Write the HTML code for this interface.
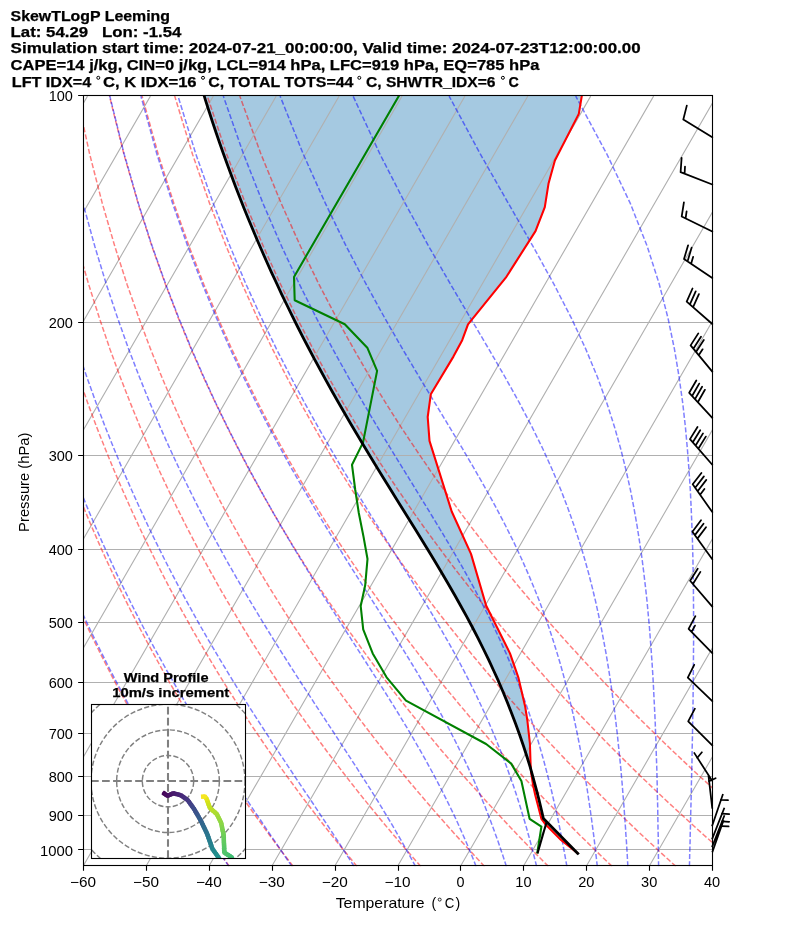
<!DOCTYPE html>
<html><head><meta charset="utf-8"><title>SkewTLogP Leeming</title>
<style>html,body{margin:0;padding:0;background:#fff;overflow:hidden}svg{display:block;will-change:transform}</style></head>
<body>
<svg width="794" height="937" viewBox="0 0 794 937" font-family="'Liberation Sans', sans-serif">
<rect width="794" height="937" fill="#fff"/>
<defs><clipPath id="ax"><rect x="83.1" y="96.1" width="629.0" height="770.1999999999999"/></clipPath><clipPath id="hd"><rect x="91.5" y="704.5" width="154" height="154"/></clipPath></defs>
<g clip-path="url(#ax)">
<path d="M530.9,769.8 L530.2,767.2 L526.9,756.5 L523.4,745.7 L519.7,735.0 L515.8,724.2 L511.7,713.5 L507.5,702.7 L503.1,692.0 L498.5,681.2 L493.6,670.5 L488.6,659.7 L483.4,649.0 L478.0,638.2 L472.5,627.5 L466.7,616.7 L460.8,606.0 L454.8,595.2 L448.6,584.5 L442.3,573.7 L435.9,563.0 L429.4,552.2 L422.8,541.5 L416.2,530.7 L409.5,520.0 L402.8,509.2 L396.1,498.5 L389.5,487.7 L382.8,477.0 L376.2,466.2 L369.7,455.5 L363.2,444.7 L356.8,434.0 L350.4,423.2 L344.2,412.5 L338.0,401.8 L331.9,391.0 L326.0,380.3 L320.1,369.5 L314.3,358.8 L308.6,348.0 L303.0,337.3 L297.5,326.5 L292.2,315.8 L286.9,305.0 L281.7,294.3 L276.7,283.5 L271.7,272.8 L266.8,262.0 L262.1,251.3 L257.4,240.5 L252.9,229.8 L248.4,219.0 L244.0,208.3 L239.8,197.5 L235.6,186.8 L231.6,176.0 L227.6,165.3 L223.7,154.5 L219.9,143.8 L216.2,133.0 L212.6,122.3 L209.1,111.5 L205.7,100.8 L202.4,90.0 L199.2,79.3 L582.7,90.5 L578.8,113.9 L554.9,160.5 L548.6,183.2 L544.8,207.1 L535.5,231.1 L505.8,277.7 L468.0,324.3 L462.2,340.2 L453.4,356.6 L430.8,394.3 L427.7,417.0 L429.5,440.9 L451.7,511.5 L471.0,553.9 L486.1,605.5 L510.0,653.4 L518.3,677.3 L525.1,706.2 L527.3,720.0 L529.4,739.0 L529.9,743.5 L530.6,764.6 L530.9,769.8Z" fill="#1f77b4" fill-opacity="0.4"/>
<path d="M83.1,95.5H712.1 M83.1,322.5H712.1 M83.1,455.5H712.1 M83.1,549.5H712.1 M83.1,622.5H712.1 M83.1,682.5H712.1 M83.1,733.5H712.1 M83.1,776.5H712.1 M83.1,815.5H712.1 M83.1,849.5H712.1 M-420.1,866.3L24.6,96.1 M-357.2,866.3L87.5,96.1 M-294.3,866.3L150.4,96.1 M-231.4,866.3L213.3,96.1 M-168.5,866.3L276.2,96.1 M-105.6,866.3L339.1,96.1 M-42.7,866.3L402.0,96.1 M20.2,866.3L464.9,96.1 M83.1,866.3L527.8,96.1 M146.0,866.3L590.7,96.1 M208.9,866.3L653.6,96.1 M271.8,866.3L716.5,96.1 M334.7,866.3L779.4,96.1 M397.6,866.3L842.3,96.1 M460.5,866.3L905.2,96.1 M523.4,866.3L968.1,96.1 M586.3,866.3L1031.0,96.1 M649.2,866.3L1093.9,96.1 M712.1,866.3L1156.8,96.1" stroke="#b0b0b0" stroke-width="1.11" fill="none"/>
<path d="M229.4,866.4 L225.1,860.3 L220.7,854.1 L216.2,847.7 L211.7,841.2 L207.2,834.7 L202.6,827.9 L198.0,821.0 L193.3,814.0 L188.6,806.8 L183.8,799.5 L179.0,792.0 L174.1,784.3 L169.2,776.5 L164.2,768.4 L159.2,760.1 L154.1,751.7 L148.9,743.0 L143.7,734.0 L138.5,724.8 L133.1,715.4 L127.7,705.7 L122.3,695.6 L116.7,685.3 L111.1,674.6 L105.4,663.5 L99.7,652.1 L93.8,640.3 L87.9,628.0 L81.9,615.2 L75.8,601.9 L69.6,588.1 L63.3,573.6 L57.0,558.5 L50.5,542.6 L44.0,526.0 L37.3,508.4 L30.5,489.8 L23.7,470.2 L16.7,449.2 L9.7,426.9 L2.5,402.9 L-4.7,377.0 L-11.9,348.9 L-19.3,318.1 L-26.6,284.2 L-33.8,246.3 L-40.8,203.4 L-47.4,154.2 L-53.4,96.1 M293.2,866.4 L288.5,860.3 L283.8,854.1 L279.0,847.7 L274.1,841.2 L269.2,834.7 L264.3,827.9 L259.3,821.0 L254.2,814.0 L249.1,806.8 L244.0,799.5 L238.8,792.0 L233.5,784.3 L228.2,776.5 L222.8,768.4 L217.3,760.1 L211.8,751.7 L206.2,743.0 L200.6,734.0 L194.8,724.8 L189.0,715.4 L183.2,705.7 L177.2,695.6 L171.2,685.3 L165.1,674.6 L158.9,663.5 L152.6,652.1 L146.2,640.3 L139.7,628.0 L133.1,615.2 L126.4,601.9 L119.7,588.1 L112.8,573.6 L105.7,558.5 L98.6,542.6 L91.4,526.0 L84.0,508.4 L76.5,489.8 L68.8,470.2 L61.1,449.2 L53.2,426.9 L45.1,402.9 L37.0,377.0 L28.7,348.9 L20.3,318.1 L11.8,284.2 L3.4,246.3 L-5.0,203.4 L-13.2,154.2 L-20.8,96.1 M357.0,866.4 L352.0,860.3 L346.9,854.1 L341.7,847.7 L336.5,841.2 L331.3,834.7 L325.9,827.9 L320.6,821.0 L315.2,814.0 L309.7,806.8 L304.1,799.5 L298.5,792.0 L292.9,784.3 L287.1,776.5 L281.3,768.4 L275.5,760.1 L269.5,751.7 L263.5,743.0 L257.4,734.0 L251.2,724.8 L245.0,715.4 L238.6,705.7 L232.2,695.6 L225.6,685.3 L219.0,674.6 L212.3,663.5 L205.5,652.1 L198.6,640.3 L191.5,628.0 L184.4,615.2 L177.1,601.9 L169.7,588.1 L162.2,573.6 L154.5,558.5 L146.7,542.6 L138.8,526.0 L130.7,508.4 L122.4,489.8 L114.0,470.2 L105.4,449.2 L96.6,426.9 L87.7,402.9 L78.6,377.0 L69.3,348.9 L59.8,318.1 L50.2,284.2 L40.5,246.3 L30.8,203.4 L21.1,154.2 L11.8,96.1 M420.8,866.4 L415.4,860.3 L410.0,854.1 L404.5,847.7 L398.9,841.2 L393.3,834.7 L387.6,827.9 L381.9,821.0 L376.1,814.0 L370.2,806.8 L364.3,799.5 L358.3,792.0 L352.2,784.3 L346.1,776.5 L339.9,768.4 L333.6,760.1 L327.2,751.7 L320.8,743.0 L314.2,734.0 L307.6,724.8 L300.9,715.4 L294.0,705.7 L287.1,695.6 L280.1,685.3 L273.0,674.6 L265.7,663.5 L258.4,652.1 L250.9,640.3 L243.3,628.0 L235.6,615.2 L227.7,601.9 L219.7,588.1 L211.6,573.6 L203.3,558.5 L194.8,542.6 L186.2,526.0 L177.3,508.4 L168.3,489.8 L159.1,470.2 L149.7,449.2 L140.1,426.9 L130.3,402.9 L120.2,377.0 L109.9,348.9 L99.4,318.1 L88.6,284.2 L77.7,246.3 L66.5,203.4 L55.4,154.2 L44.4,96.1 M484.6,866.4 L478.8,860.3 L473.1,854.1 L467.2,847.7 L461.3,841.2 L455.3,834.7 L449.3,827.9 L443.2,821.0 L437.0,814.0 L430.8,806.8 L424.5,799.5 L418.1,792.0 L411.6,784.3 L405.1,776.5 L398.4,768.4 L391.7,760.1 L384.9,751.7 L378.0,743.0 L371.0,734.0 L364.0,724.8 L356.8,715.4 L349.5,705.7 L342.1,695.6 L334.6,685.3 L326.9,674.6 L319.2,663.5 L311.3,652.1 L303.3,640.3 L295.1,628.0 L286.8,615.2 L278.4,601.9 L269.8,588.1 L261.0,573.6 L252.0,558.5 L242.9,542.6 L233.6,526.0 L224.0,508.4 L214.3,489.8 L204.3,470.2 L194.1,449.2 L183.6,426.9 L172.8,402.9 L161.8,377.0 L150.5,348.9 L138.9,318.1 L127.0,284.2 L114.8,246.3 L102.3,203.4 L89.7,154.2 L77.0,96.1 M548.4,866.4 L542.3,860.3 L536.2,854.1 L530.0,847.7 L523.7,841.2 L517.4,834.7 L511.0,827.9 L504.5,821.0 L498.0,814.0 L491.3,806.8 L484.6,799.5 L477.9,792.0 L471.0,784.3 L464.0,776.5 L457.0,768.4 L449.9,760.1 L442.6,751.7 L435.3,743.0 L427.9,734.0 L420.3,724.8 L412.7,715.4 L404.9,705.7 L397.0,695.6 L389.0,685.3 L380.9,674.6 L372.6,663.5 L364.2,652.1 L355.7,640.3 L346.9,628.0 L338.1,615.2 L329.0,601.9 L319.8,588.1 L310.4,573.6 L300.8,558.5 L291.0,542.6 L281.0,526.0 L270.7,508.4 L260.2,489.8 L249.4,470.2 L238.4,449.2 L227.1,426.9 L215.4,402.9 L203.4,377.0 L191.1,348.9 L178.4,318.1 L165.4,284.2 L151.9,246.3 L138.1,203.4 L123.9,154.2 L109.5,96.1 M612.1,866.4 L605.7,860.3 L599.3,854.1 L592.7,847.7 L586.1,841.2 L579.4,834.7 L572.7,827.9 L565.8,821.0 L558.9,814.0 L551.9,806.8 L544.8,799.5 L537.6,792.0 L530.4,784.3 L523.0,776.5 L515.6,768.4 L508.0,760.1 L500.3,751.7 L492.6,743.0 L484.7,734.0 L476.7,724.8 L468.6,715.4 L460.4,705.7 L452.0,695.6 L443.5,685.3 L434.9,674.6 L426.1,663.5 L417.1,652.1 L408.0,640.3 L398.8,628.0 L389.3,615.2 L379.7,601.9 L369.8,588.1 L359.8,573.6 L349.6,558.5 L339.1,542.6 L328.3,526.0 L317.4,508.4 L306.1,489.8 L294.6,470.2 L282.7,449.2 L270.5,426.9 L258.0,402.9 L245.1,377.0 L231.7,348.9 L218.0,318.1 L203.8,284.2 L189.1,246.3 L173.9,203.4 L158.2,154.2 L142.1,96.1 M675.9,866.4 L669.2,860.3 L662.4,854.1 L655.5,847.7 L648.5,841.2 L641.5,834.7 L634.3,827.9 L627.1,821.0 L619.8,814.0 L612.5,806.8 L605.0,799.5 L597.4,792.0 L589.8,784.3 L582.0,776.5 L574.1,768.4 L566.1,760.1 L558.1,751.7 L549.9,743.0 L541.5,734.0 L533.1,724.8 L524.5,715.4 L515.8,705.7 L507.0,695.6 L498.0,685.3 L488.8,674.6 L479.5,663.5 L470.0,652.1 L460.4,640.3 L450.6,628.0 L440.5,615.2 L430.3,601.9 L419.9,588.1 L409.2,573.6 L398.3,558.5 L387.2,542.6 L375.7,526.0 L364.0,508.4 L352.0,489.8 L339.7,470.2 L327.0,449.2 L314.0,426.9 L300.6,402.9 L286.7,377.0 L272.4,348.9 L257.5,318.1 L242.2,284.2 L226.2,246.3 L209.6,203.4 L192.5,154.2 L174.7,96.1 M739.7,866.4 L732.6,860.3 L725.5,854.1 L718.2,847.7 L710.9,841.2 L703.5,834.7 L696.0,827.9 L688.4,821.0 L680.8,814.0 L673.0,806.8 L665.1,799.5 L657.2,792.0 L649.1,784.3 L641.0,776.5 L632.7,768.4 L624.3,760.1 L615.8,751.7 L607.1,743.0 L598.4,734.0 L589.5,724.8 L580.4,715.4 L571.2,705.7 L561.9,695.6 L552.4,685.3 L542.8,674.6 L533.0,663.5 L522.9,652.1 L512.8,640.3 L502.4,628.0 L491.8,615.2 L481.0,601.9 L469.9,588.1 L458.6,573.6 L447.1,558.5 L435.3,542.6 L423.1,526.0 L410.7,508.4 L398.0,489.8 L384.9,470.2 L371.4,449.2 L357.5,426.9 L343.1,402.9 L328.3,377.0 L313.0,348.9 L297.1,318.1 L280.5,284.2 L263.3,246.3 L245.4,203.4 L226.7,154.2 L207.3,96.1 M803.5,866.4 L796.1,860.3 L788.6,854.1 L781.0,847.7 L773.3,841.2 L765.5,834.7 L757.7,827.9 L749.7,821.0 L741.7,814.0 L733.6,806.8 L725.3,799.5 L717.0,792.0 L708.5,784.3 L699.9,776.5 L691.2,768.4 L682.4,760.1 L673.5,751.7 L664.4,743.0 L655.2,734.0 L645.8,724.8 L636.3,715.4 L626.7,705.7 L616.9,695.6 L606.9,685.3 L596.7,674.6 L586.4,663.5 L575.9,652.1 L565.1,640.3 L554.2,628.0 L543.0,615.2 L531.6,601.9 L519.9,588.1 L508.0,573.6 L495.8,558.5 L483.3,542.6 L470.5,526.0 L457.4,508.4 L443.9,489.8 L430.0,470.2 L415.7,449.2 L400.9,426.9 L385.7,402.9 L369.9,377.0 L353.6,348.9 L336.6,318.1 L318.9,284.2 L300.5,246.3 L281.2,203.4 L261.0,154.2 L239.8,96.1" stroke="#ff0000" stroke-opacity="0.5" stroke-width="1.5" stroke-dasharray="5.14 2.22" fill="none"/>
<path d="M228.9,866.4 L224.7,860.3 L220.5,854.1 L216.3,847.7 L212.0,841.2 L207.6,834.7 L203.2,827.9 L198.7,821.0 L194.1,814.0 L189.5,806.8 L184.8,799.5 L180.1,792.0 L175.3,784.3 L170.4,776.5 L165.5,768.4 L160.5,760.1 L155.5,751.7 L150.4,743.0 L145.2,734.0 L139.9,724.8 L134.6,715.4 L129.2,705.7 L123.8,695.6 L118.2,685.3 L112.6,674.6 L106.9,663.5 L101.2,652.1 L95.3,640.3 L89.4,628.0 L83.4,615.2 L77.3,601.9 L71.1,588.1 L64.8,573.6 L58.4,558.5 L51.9,542.6 L45.3,526.0 L38.6,508.4 L31.9,489.8 L25.0,470.2 L18.0,449.2 L10.9,426.9 L3.8,402.9 L-3.5,377.0 L-10.8,348.9 L-18.1,318.1 L-25.4,284.2 L-32.7,246.3 L-39.8,203.4 L-46.4,154.2 L-52.4,96.1 M291.9,866.4 L287.7,860.3 L283.5,854.1 L279.2,847.7 L274.8,841.2 L270.3,834.7 L265.7,827.9 L261.1,821.0 L256.3,814.0 L251.5,806.8 L246.6,799.5 L241.6,792.0 L236.6,784.3 L231.4,776.5 L226.2,768.4 L220.9,760.1 L215.5,751.7 L210.0,743.0 L204.4,734.0 L198.8,724.8 L193.0,715.4 L187.2,705.7 L181.3,695.6 L175.3,685.3 L169.1,674.6 L162.9,663.5 L156.6,652.1 L150.2,640.3 L143.7,628.0 L137.1,615.2 L130.4,601.9 L123.6,588.1 L116.6,573.6 L109.6,558.5 L102.4,542.6 L95.1,526.0 L87.7,508.4 L80.1,489.8 L72.4,470.2 L64.6,449.2 L56.6,426.9 L48.5,402.9 L40.2,377.0 L31.9,348.9 L23.4,318.1 L14.9,284.2 L6.3,246.3 L-2.2,203.4 L-10.5,154.2 L-18.2,96.1 M354.1,866.4 L350.2,860.3 L346.2,854.1 L342.1,847.7 L337.9,841.2 L333.6,834.7 L329.2,827.9 L324.6,821.0 L319.9,814.0 L315.2,806.8 L310.3,799.5 L305.2,792.0 L300.1,784.3 L294.8,776.5 L289.5,768.4 L284.0,760.1 L278.3,751.7 L272.6,743.0 L266.8,734.0 L260.8,724.8 L254.7,715.4 L248.5,705.7 L242.1,695.6 L235.7,685.3 L229.1,674.6 L222.4,663.5 L215.6,652.1 L208.6,640.3 L201.5,628.0 L194.3,615.2 L187.0,601.9 L179.5,588.1 L171.9,573.6 L164.1,558.5 L156.2,542.6 L148.1,526.0 L139.9,508.4 L131.5,489.8 L122.9,470.2 L114.2,449.2 L105.2,426.9 L96.1,402.9 L86.8,377.0 L77.3,348.9 L67.7,318.1 L57.8,284.2 L47.9,246.3 L37.9,203.4 L27.9,154.2 L18.2,96.1 M415.5,866.4 L412.2,860.3 L408.8,854.1 L405.3,847.7 L401.6,841.2 L397.8,834.7 L393.9,827.9 L389.8,821.0 L385.6,814.0 L381.3,806.8 L376.8,799.5 L372.1,792.0 L367.2,784.3 L362.2,776.5 L357.1,768.4 L351.7,760.1 L346.2,751.7 L340.5,743.0 L334.7,734.0 L328.6,724.8 L322.4,715.4 L316.0,705.7 L309.5,695.6 L302.7,685.3 L295.8,674.6 L288.7,663.5 L281.4,652.1 L274.0,640.3 L266.4,628.0 L258.6,615.2 L250.6,601.9 L242.4,588.1 L234.1,573.6 L225.5,558.5 L216.8,542.6 L207.9,526.0 L198.8,508.4 L189.5,489.8 L179.9,470.2 L170.1,449.2 L160.1,426.9 L149.9,402.9 L139.4,377.0 L128.6,348.9 L117.6,318.1 L106.3,284.2 L94.8,246.3 L83.0,203.4 L71.2,154.2 L59.4,96.1 M476.1,866.4 L473.7,860.3 L471.2,854.1 L468.6,847.7 L465.8,841.2 L462.9,834.7 L459.9,827.9 L456.8,821.0 L453.5,814.0 L450.0,806.8 L446.4,799.5 L442.7,792.0 L438.7,784.3 L434.6,776.5 L430.2,768.4 L425.7,760.1 L420.9,751.7 L415.9,743.0 L410.7,734.0 L405.2,724.8 L399.5,715.4 L393.5,705.7 L387.2,695.6 L380.7,685.3 L373.9,674.6 L366.8,663.5 L359.5,652.1 L351.9,640.3 L344.0,628.0 L335.8,615.2 L327.3,601.9 L318.6,588.1 L309.6,573.6 L300.3,558.5 L290.7,542.6 L280.9,526.0 L270.8,508.4 L260.4,489.8 L249.7,470.2 L238.7,449.2 L227.4,426.9 L215.7,402.9 L203.8,377.0 L191.5,348.9 L178.8,318.1 L165.7,284.2 L152.2,246.3 L138.4,203.4 L124.2,154.2 L109.8,96.1 M506.4,866.4 L504.4,860.3 L502.4,854.1 L500.2,847.7 L498.0,841.2 L495.6,834.7 L493.2,827.9 L490.6,821.0 L487.9,814.0 L485.1,806.8 L482.1,799.5 L479.0,792.0 L475.6,784.3 L472.2,776.5 L468.5,768.4 L464.6,760.1 L460.5,751.7 L456.2,743.0 L451.6,734.0 L446.8,724.8 L441.7,715.4 L436.3,705.7 L430.7,695.6 L424.7,685.3 L418.4,674.6 L411.7,663.5 L404.7,652.1 L397.3,640.3 L389.6,628.0 L381.6,615.2 L373.1,601.9 L364.3,588.1 L355.1,573.6 L345.6,558.5 L335.7,542.6 L325.4,526.0 L314.8,508.4 L303.9,489.8 L292.5,470.2 L280.9,449.2 L268.8,426.9 L256.3,402.9 L243.5,377.0 L230.2,348.9 L216.5,318.1 L202.4,284.2 L187.7,246.3 L172.6,203.4 L156.9,154.2 L140.9,96.1 M536.6,866.4 L535.1,860.3 L533.5,854.1 L531.9,847.7 L530.2,841.2 L528.4,834.7 L526.5,827.9 L524.5,821.0 L522.4,814.0 L520.2,806.8 L517.9,799.5 L515.5,792.0 L512.9,784.3 L510.1,776.5 L507.2,768.4 L504.2,760.1 L500.9,751.7 L497.4,743.0 L493.7,734.0 L489.8,724.8 L485.6,715.4 L481.2,705.7 L476.4,695.6 L471.3,685.3 L465.9,674.6 L460.1,663.5 L453.9,652.1 L447.3,640.3 L440.2,628.0 L432.7,615.2 L424.8,601.9 L416.3,588.1 L407.4,573.6 L397.9,558.5 L388.0,542.6 L377.5,526.0 L366.6,508.4 L355.2,489.8 L343.2,470.2 L330.8,449.2 L318.0,426.9 L304.6,402.9 L290.8,377.0 L276.4,348.9 L261.5,318.1 L246.0,284.2 L230.0,246.3 L213.3,203.4 L195.9,154.2 L178.0,96.1 M566.9,866.4 L565.8,860.3 L564.7,854.1 L563.5,847.7 L562.3,841.2 L561.0,834.7 L559.7,827.9 L558.3,821.0 L556.8,814.0 L555.2,806.8 L553.5,799.5 L551.8,792.0 L549.9,784.3 L547.9,776.5 L545.8,768.4 L543.6,760.1 L541.2,751.7 L538.7,743.0 L536.0,734.0 L533.1,724.8 L529.9,715.4 L526.6,705.7 L523.0,695.6 L519.1,685.3 L514.9,674.6 L510.4,663.5 L505.5,652.1 L500.1,640.3 L494.4,628.0 L488.1,615.2 L481.3,601.9 L474.0,588.1 L466.0,573.6 L457.4,558.5 L448.1,542.6 L438.1,526.0 L427.4,508.4 L416.0,489.8 L403.9,470.2 L391.0,449.2 L377.4,426.9 L363.2,402.9 L348.3,377.0 L332.7,348.9 L316.4,318.1 L299.4,284.2 L281.6,246.3 L263.0,203.4 L243.6,154.2 L223.3,96.1 M597.3,866.4 L596.6,860.3 L595.9,854.1 L595.2,847.7 L594.4,841.2 L593.6,834.7 L592.7,827.9 L591.8,821.0 L590.8,814.0 L589.8,806.8 L588.7,799.5 L587.6,792.0 L586.4,784.3 L585.1,776.5 L583.8,768.4 L582.3,760.1 L580.8,751.7 L579.1,743.0 L577.3,734.0 L575.4,724.8 L573.4,715.4 L571.1,705.7 L568.7,695.6 L566.1,685.3 L563.3,674.6 L560.2,663.5 L556.8,652.1 L553.1,640.3 L549.1,628.0 L544.6,615.2 L539.7,601.9 L534.2,588.1 L528.1,573.6 L521.4,558.5 L514.0,542.6 L505.7,526.0 L496.5,508.4 L486.3,489.8 L475.1,470.2 L462.8,449.2 L449.4,426.9 L434.9,402.9 L419.2,377.0 L402.5,348.9 L384.8,318.1 L366.1,284.2 L346.2,246.3 L325.4,203.4 L303.3,154.2 L280.1,96.1 M627.9,866.4 L627.5,860.3 L627.2,854.1 L626.8,847.7 L626.4,841.2 L625.9,834.7 L625.5,827.9 L625.0,821.0 L624.5,814.0 L624.0,806.8 L623.4,799.5 L622.8,792.0 L622.2,784.3 L621.5,776.5 L620.8,768.4 L620.0,760.1 L619.1,751.7 L618.2,743.0 L617.3,734.0 L616.2,724.8 L615.1,715.4 L613.9,705.7 L612.5,695.6 L611.1,685.3 L609.5,674.6 L607.7,663.5 L605.8,652.1 L603.6,640.3 L601.3,628.0 L598.6,615.2 L595.7,601.9 L592.4,588.1 L588.7,573.6 L584.5,558.5 L579.7,542.6 L574.2,526.0 L568.0,508.4 L560.8,489.8 L552.5,470.2 L543.0,449.2 L532.0,426.9 L519.4,402.9 L505.0,377.0 L488.7,348.9 L470.5,318.1 L450.5,284.2 L428.7,246.3 L405.2,203.4 L380.0,154.2 L353.1,96.1 M658.6,866.4 L658.5,860.3 L658.4,854.1 L658.3,847.7 L658.3,841.2 L658.2,834.7 L658.0,827.9 L657.9,821.0 L657.8,814.0 L657.7,806.8 L657.5,799.5 L657.3,792.0 L657.2,784.3 L657.0,776.5 L656.8,768.4 L656.5,760.1 L656.2,751.7 L656.0,743.0 L655.6,734.0 L655.3,724.8 L654.9,715.4 L654.4,705.7 L653.9,695.6 L653.4,685.3 L652.8,674.6 L652.1,663.5 L651.3,652.1 L650.4,640.3 L649.5,628.0 L648.3,615.2 L647.1,601.9 L645.6,588.1 L643.9,573.6 L642.0,558.5 L639.7,542.6 L637.1,526.0 L634.0,508.4 L630.4,489.8 L626.0,470.2 L620.8,449.2 L614.5,426.9 L606.8,402.9 L597.4,377.0 L585.7,348.9 L571.4,318.1 L553.9,284.2 L533.0,246.3 L508.4,203.4 L480.4,154.2 L449.1,96.1 M689.4,866.4 L689.6,860.3 L689.7,854.1 L689.9,847.7 L690.1,841.2 L690.2,834.7 L690.4,827.9 L690.6,821.0 L690.7,814.0 L690.9,806.8 L691.1,799.5 L691.3,792.0 L691.4,784.3 L691.6,776.5 L691.8,768.4 L692.0,760.1 L692.1,751.7 L692.3,743.0 L692.5,734.0 L692.6,724.8 L692.8,715.4 L693.0,705.7 L693.1,695.6 L693.2,685.3 L693.3,674.6 L693.4,663.5 L693.5,652.1 L693.6,640.3 L693.6,628.0 L693.6,615.2 L693.5,601.9 L693.4,588.1 L693.2,573.6 L692.9,558.5 L692.5,542.6 L691.9,526.0 L691.2,508.4 L690.3,489.8 L689.0,470.2 L687.4,449.2 L685.4,426.9 L682.7,402.9 L679.1,377.0 L674.4,348.9 L668.0,318.1 L659.3,284.2 L647.2,246.3 L630.3,203.4 L606.9,154.2 L575.7,96.1 M720.4,866.4 L720.7,860.3 L721.1,854.1 L721.4,847.7 L721.8,841.2 L722.2,834.7 L722.5,827.9 L722.9,821.0 L723.3,814.0 L723.7,806.8 L724.2,799.5 L724.6,792.0 L725.0,784.3 L725.5,776.5 L726.0,768.4 L726.5,760.1 L727.0,751.7 L727.5,743.0 L728.0,734.0 L728.6,724.8 L729.1,715.4 L729.7,705.7 L730.3,695.6 L731.0,685.3 L731.6,674.6 L732.2,663.5 L732.9,652.1 L733.6,640.3 L734.3,628.0 L735.1,615.2 L735.8,601.9 L736.6,588.1 L737.4,573.6 L738.2,558.5 L739.0,542.6 L739.8,526.0 L740.6,508.4 L741.4,489.8 L742.2,470.2 L742.9,449.2 L743.5,426.9 L744.0,402.9 L744.3,377.0 L744.3,348.9 L743.8,318.1 L742.7,284.2 L740.4,246.3 L736.1,203.4 L728.5,154.2 L714.8,96.1" stroke="#0000ff" stroke-opacity="0.5" stroke-width="1.5" stroke-dasharray="5.14 2.22" fill="none"/>
<path d="M578.0,853.5 L561.0,839.9 L545.9,824.8 L541.4,818.8 L535.3,795.3 L533.2,785.7 L531.1,772.7 L530.6,764.6 L529.9,743.5 L529.4,739.0 L527.3,720.0 L525.1,706.2 L518.3,677.3 L510.0,653.4 L486.1,605.5 L471.0,553.9 L451.7,511.5 L429.5,440.9 L427.7,417.0 L430.8,394.3 L453.4,356.6 L462.2,340.2 L468.0,324.3 L505.8,277.7 L535.5,231.1 L544.8,207.1 L548.6,183.2 L554.9,160.5 L578.8,113.9 L582.7,90.5" stroke="#ff0000" stroke-width="2.08" fill="none" stroke-linejoin="round"/>
<path d="M537.2,853.5 L541.4,826.6 L529.6,818.8 L521.4,781.0 L511.2,763.6 L486.1,744.0 L406.0,700.7 L386.6,677.3 L372.7,653.4 L363.2,629.4 L360.7,606.0 L365.2,585.3 L367.5,559.0 L363.5,536.6 L358.8,513.0 L355.2,489.5 L352.0,464.8 L363.0,442.6 L377.1,370.9 L367.3,347.7 L344.8,324.3 L294.7,300.3 L294.0,276.9 L402.0,90.5" stroke="#008000" stroke-width="2.08" fill="none" stroke-linejoin="round"/>
<path d="M577.8,853.4 L543.4,818.5 L541.5,810.2 L538.9,799.4 L536.1,788.7 L533.2,777.9 L530.2,767.2 L526.9,756.5 L523.4,745.7 L519.7,735.0 L515.8,724.2 L511.7,713.5 L507.5,702.7 L503.1,692.0 L498.5,681.2 L493.6,670.5 L488.6,659.7 L483.4,649.0 L478.0,638.2 L472.5,627.5 L466.7,616.7 L460.8,606.0 L454.8,595.2 L448.6,584.5 L442.3,573.7 L435.9,563.0 L429.4,552.2 L422.8,541.5 L416.2,530.7 L409.5,520.0 L402.8,509.2 L396.1,498.5 L389.5,487.7 L382.8,477.0 L376.2,466.2 L369.7,455.5 L363.2,444.7 L356.8,434.0 L350.4,423.2 L344.2,412.5 L338.0,401.8 L331.9,391.0 L326.0,380.3 L320.1,369.5 L314.3,358.8 L308.6,348.0 L303.0,337.3 L297.5,326.5 L292.2,315.8 L286.9,305.0 L281.7,294.3 L276.7,283.5 L271.7,272.8 L266.8,262.0 L262.1,251.3 L257.4,240.5 L252.9,229.8 L248.4,219.0 L244.0,208.3 L239.8,197.5 L235.6,186.8 L231.6,176.0 L227.6,165.3 L223.7,154.5 L219.9,143.8 L216.2,133.0 L212.6,122.3 L209.1,111.5 L205.7,100.8 L202.4,90.0 L199.2,79.3" stroke="#000" stroke-width="2.78" fill="none" stroke-linejoin="round" stroke-linecap="square"/>
<path d="M546.8,821.2 L537.5,853.4" stroke="#000" stroke-width="2.08" fill="none"/>
</g>
<path d="M712.3,137.3L683.3,119.5L686.8,105.6 M712.3,184.5L680.6,172.1L681.6,157.9M684.6,173.7L685.0,166.6 M712.3,231.5L681.7,216.5L683.9,202.4M685.6,218.4L686.6,211.4 M712.3,277.9L684.0,259.0L688.1,245.3M687.6,261.3L691.6,247.7M691.1,263.7L693.1,256.9 M712.3,324.0L686.7,301.6L692.5,288.5M689.9,304.4L695.7,291.3M693.1,307.2L698.9,294.1 M712.3,371.6L690.6,345.4L698.3,333.4M693.3,348.7L701.0,336.7M696.0,352.0L703.8,340.0M698.7,355.2L702.6,349.3 M712.3,417.8L689.2,392.8L696.3,380.5M692.1,396.0L699.2,383.6M695.0,399.1L702.1,386.7M697.8,402.2L704.9,389.8 M712.3,464.8L690.0,439.1L697.5,427.0M692.8,442.3L700.2,430.2M695.6,445.5L703.0,433.4M698.3,448.7L705.8,436.6 M712.3,512.1L692.7,484.3L701.4,473.0M695.2,487.7L703.9,476.4M697.6,491.2L706.3,479.9M700.1,494.7L704.4,489.0 M712.3,559.3L692.4,531.7L701.0,520.3M694.9,535.1L703.5,523.7M697.4,538.6L706.0,527.2 M712.3,606.6L690.1,580.8L697.7,568.7M692.9,584.0L700.4,571.9 M712.3,653.2L688.6,628.8L695.4,616.2M691.6,631.8L695.0,625.6 M712.3,701.2L687.8,677.6L694.2,664.8 M712.3,745.4L688.2,721.3L694.9,708.7" stroke="#000" stroke-width="1.75" fill="none" stroke-linejoin="round" stroke-linecap="round"/>
<path d="M712.3,781.0L693.9,752.4 M712.3,808.6L708.4,774.8 M712.0,826.2L723.0,794.0 M712.0,839.4L724.4,807.7 M712.0,847.0L724.5,815.3 M712.3,852.2L723.6,820.1" stroke="#000" stroke-width="1.75" fill="none" stroke-linecap="butt"/>
<path d="M697.3,757.8L701.9,752.3 M709.1,781.1L715.6,778.2 M720.9,800.0L728.0,800.2 M722.0,813.6L729.2,814.1 M722.1,821.3L729.2,821.8 M721.5,826.1L728.6,826.4" stroke="#000" stroke-width="1.75" fill="none" stroke-linecap="round"/>
<rect x="83.5" y="95.5" width="629" height="770" fill="none" stroke="#000" stroke-width="1.11"/>
<path d="M83.5,866v4.86 M146.5,866v4.86 M209.5,866v4.86 M272.5,866v4.86 M335.5,866v4.86 M398.5,866v4.86 M460.5,866v4.86 M523.5,866v4.86 M586.5,866v4.86 M649.5,866v4.86 M712.5,866v4.86 M83,95.5h-4.86 M83,322.5h-4.86 M83,455.5h-4.86 M83,549.5h-4.86 M83,622.5h-4.86 M83,682.5h-4.86 M83,733.5h-4.86 M83,776.5h-4.86 M83,815.5h-4.86 M83,849.5h-4.86" stroke="#000" stroke-width="1.11" fill="none"/>
<text x="83.1" y="887.3" font-size="14.2" text-anchor="middle" textLength="26.0" lengthAdjust="spacingAndGlyphs">−60</text>
<text x="146.0" y="887.3" font-size="14.2" text-anchor="middle" textLength="26.0" lengthAdjust="spacingAndGlyphs">−50</text>
<text x="208.9" y="887.3" font-size="14.2" text-anchor="middle" textLength="26.0" lengthAdjust="spacingAndGlyphs">−40</text>
<text x="271.8" y="887.3" font-size="14.2" text-anchor="middle" textLength="26.0" lengthAdjust="spacingAndGlyphs">−30</text>
<text x="334.7" y="887.3" font-size="14.2" text-anchor="middle" textLength="26.0" lengthAdjust="spacingAndGlyphs">−20</text>
<text x="397.6" y="887.3" font-size="14.2" text-anchor="middle" textLength="26.0" lengthAdjust="spacingAndGlyphs">−10</text>
<text x="460.5" y="887.3" font-size="14.2" text-anchor="middle" textLength="8.0" lengthAdjust="spacingAndGlyphs">0</text>
<text x="523.4" y="887.3" font-size="14.2" text-anchor="middle" textLength="16.2" lengthAdjust="spacingAndGlyphs">10</text>
<text x="586.3" y="887.3" font-size="14.2" text-anchor="middle" textLength="16.2" lengthAdjust="spacingAndGlyphs">20</text>
<text x="649.2" y="887.3" font-size="14.2" text-anchor="middle" textLength="16.2" lengthAdjust="spacingAndGlyphs">30</text>
<text x="712.1" y="887.3" font-size="14.2" text-anchor="middle" textLength="16.2" lengthAdjust="spacingAndGlyphs">40</text>
<text x="72.9" y="101.2" font-size="14.2" text-anchor="end" textLength="24.2" lengthAdjust="spacingAndGlyphs">100</text>
<text x="72.9" y="328.3" font-size="14.2" text-anchor="end" textLength="24.2" lengthAdjust="spacingAndGlyphs">200</text>
<text x="72.9" y="461.1" font-size="14.2" text-anchor="end" textLength="24.2" lengthAdjust="spacingAndGlyphs">300</text>
<text x="72.9" y="555.3" font-size="14.2" text-anchor="end" textLength="24.2" lengthAdjust="spacingAndGlyphs">400</text>
<text x="72.9" y="628.4" font-size="14.2" text-anchor="end" textLength="24.2" lengthAdjust="spacingAndGlyphs">500</text>
<text x="72.9" y="688.2" font-size="14.2" text-anchor="end" textLength="24.2" lengthAdjust="spacingAndGlyphs">600</text>
<text x="72.9" y="738.7" font-size="14.2" text-anchor="end" textLength="24.2" lengthAdjust="spacingAndGlyphs">700</text>
<text x="72.9" y="782.4" font-size="14.2" text-anchor="end" textLength="24.2" lengthAdjust="spacingAndGlyphs">800</text>
<text x="72.9" y="821.0" font-size="14.2" text-anchor="end" textLength="24.2" lengthAdjust="spacingAndGlyphs">900</text>
<text x="72.9" y="855.5" font-size="14.2" text-anchor="end" textLength="33.0" lengthAdjust="spacingAndGlyphs">1000</text>
<text x="335.7" y="907.9" font-size="14.2" textLength="88.8" lengthAdjust="spacingAndGlyphs">Temperature</text>
<text x="431.6" y="907.9" font-size="14.2">(</text>
<circle cx="439.7" cy="899.6" r="1.5" fill="none" stroke="#000" stroke-width="0.8"/>
<text x="444.8" y="907.9" font-size="14.2" textLength="9.6" lengthAdjust="spacingAndGlyphs">C</text>
<text x="455.6" y="907.9" font-size="14.2">)</text>
<text transform="translate(29.1,531.9) rotate(-90)" font-size="14.2" textLength="99.4" lengthAdjust="spacingAndGlyphs">Pressure (hPa)</text>
<text x="10.6" y="21.0" font-size="14.3" font-weight="bold" stroke="#000" stroke-width="0.25" textLength="159.4" lengthAdjust="spacingAndGlyphs" xml:space="preserve">SkewTLogP Leeming</text>
<text x="10.6" y="37.0" font-size="14.3" font-weight="bold" stroke="#000" stroke-width="0.25" textLength="170.8" lengthAdjust="spacingAndGlyphs" xml:space="preserve">Lat: 54.29   Lon: -1.54</text>
<text x="10.6" y="52.9" font-size="14.3" font-weight="bold" stroke="#000" stroke-width="0.25" textLength="630.1" lengthAdjust="spacingAndGlyphs" xml:space="preserve">Simulation start time: 2024-07-21_00:00:00, Valid time: 2024-07-23T12:00:00.00</text>
<text x="10.6" y="70.0" font-size="14.3" font-weight="bold" stroke="#000" stroke-width="0.25" textLength="528.8" lengthAdjust="spacingAndGlyphs" xml:space="preserve">CAPE=14 j/kg, CIN=0 j/kg, LCL=914 hPa, LFC=919 hPa, EQ=785 hPa</text>
<text x="11.8" y="87.0" font-size="14.3" font-weight="bold" stroke="#000" stroke-width="0.25" textLength="79.4" lengthAdjust="spacingAndGlyphs" xml:space="preserve">LFT IDX=4</text>
<text x="103.1" y="87.0" font-size="14.3" font-weight="bold" stroke="#000" stroke-width="0.25" textLength="93.5" lengthAdjust="spacingAndGlyphs" xml:space="preserve">C, K IDX=16</text>
<text x="208.2" y="87.0" font-size="14.3" font-weight="bold" stroke="#000" stroke-width="0.25" textLength="145.3" lengthAdjust="spacingAndGlyphs" xml:space="preserve">C, TOTAL TOTS=44</text>
<text x="366.1" y="87.0" font-size="14.3" font-weight="bold" stroke="#000" stroke-width="0.25" textLength="129.3" lengthAdjust="spacingAndGlyphs" xml:space="preserve">C, SHWTR_IDX=6</text>
<text x="508.6" y="87.0" font-size="14.3" font-weight="bold" stroke="#000" stroke-width="0.25" textLength="10.3" lengthAdjust="spacingAndGlyphs" xml:space="preserve">C</text>
<circle cx="98.3" cy="77.8" r="1.5" fill="none" stroke="#000" stroke-width="1.0"/>
<circle cx="203.0" cy="77.8" r="1.5" fill="none" stroke="#000" stroke-width="1.0"/>
<circle cx="359.3" cy="77.8" r="1.5" fill="none" stroke="#000" stroke-width="1.0"/>
<circle cx="502.9" cy="77.8" r="1.5" fill="none" stroke="#000" stroke-width="1.0"/>
<rect x="91.5" y="704.5" width="154" height="154" fill="#fff"/>
<g clip-path="url(#hd)">
<path d="M193.67000000000002,781.2A25.67 25.67 0 1 0 142.32999999999998,781.2A25.67 25.67 0 1 0 193.67000000000002,781.2" fill="none" stroke="#808080" stroke-width="1.45" stroke-dasharray="5.14 2.22"/>
<path d="M219.32999999999998,781.2A51.33 51.33 0 1 0 116.67,781.2A51.33 51.33 0 1 0 219.32999999999998,781.2" fill="none" stroke="#808080" stroke-width="1.45" stroke-dasharray="5.14 2.22"/>
<path d="M245.0,781.2A77.0 77.0 0 1 0 91.0,781.2A77.0 77.0 0 1 0 245.0,781.2" fill="none" stroke="#808080" stroke-width="1.45" stroke-dasharray="5.14 2.22"/>
<path d="M270.67,781.2A102.67 102.67 0 1 0 65.33,781.2A102.67 102.67 0 1 0 270.67,781.2" fill="none" stroke="#808080" stroke-width="1.45" stroke-dasharray="5.14 2.22"/>
<path d="M168,857.9V704M91,781H245.5" stroke="#808080" stroke-width="2.08" stroke-dasharray="7.71 3.33" fill="none"/>
<path d="M162.6,792.4L164.3,793.5" stroke="#440256" stroke-width="4.5" stroke-linecap="butt" fill="none"/>
<path d="M164.3,793.5L165.9,794.7" stroke="#450559" stroke-width="4.5" stroke-linecap="butt" fill="none"/>
<circle cx="164.3" cy="793.5" r="2.25" fill="#450559"/>
<path d="M165.9,794.7L167.6,795.8" stroke="#460a5d" stroke-width="4.5" stroke-linecap="butt" fill="none"/>
<circle cx="165.9" cy="794.7" r="2.25" fill="#460a5d"/>
<path d="M167.6,795.8L169.5,795.0" stroke="#470d60" stroke-width="4.5" stroke-linecap="butt" fill="none"/>
<circle cx="167.6" cy="795.8" r="2.25" fill="#470d60"/>
<path d="M169.5,795.0L171.4,794.1" stroke="#471164" stroke-width="4.5" stroke-linecap="butt" fill="none"/>
<circle cx="169.5" cy="795.0" r="2.25" fill="#471164"/>
<path d="M171.4,794.1L173.3,793.3" stroke="#481668" stroke-width="4.5" stroke-linecap="butt" fill="none"/>
<circle cx="171.4" cy="794.1" r="2.25" fill="#481668"/>
<path d="M173.3,793.3L175.8,793.9" stroke="#481a6c" stroke-width="4.5" stroke-linecap="butt" fill="none"/>
<circle cx="173.3" cy="793.3" r="2.25" fill="#481a6c"/>
<path d="M175.8,793.9L178.4,794.6" stroke="#481d6f" stroke-width="4.5" stroke-linecap="butt" fill="none"/>
<circle cx="175.8" cy="793.9" r="2.25" fill="#481d6f"/>
<path d="M178.4,794.6L180.9,795.2" stroke="#482173" stroke-width="4.5" stroke-linecap="butt" fill="none"/>
<circle cx="178.4" cy="794.6" r="2.25" fill="#482173"/>
<path d="M180.9,795.2L182.6,796.5" stroke="#482677" stroke-width="4.5" stroke-linecap="butt" fill="none"/>
<circle cx="180.9" cy="795.2" r="2.25" fill="#482677"/>
<path d="M182.6,796.5L184.4,797.7" stroke="#472a7a" stroke-width="4.5" stroke-linecap="butt" fill="none"/>
<circle cx="182.6" cy="796.5" r="2.25" fill="#472a7a"/>
<path d="M184.4,797.7L186.1,799.0" stroke="#472e7c" stroke-width="4.5" stroke-linecap="butt" fill="none"/>
<circle cx="184.4" cy="797.7" r="2.25" fill="#472e7c"/>
<path d="M186.1,799.0L187.8,800.2" stroke="#46327e" stroke-width="4.5" stroke-linecap="butt" fill="none"/>
<circle cx="186.1" cy="799.0" r="2.25" fill="#46327e"/>
<path d="M187.8,800.2L189.1,802.0" stroke="#453781" stroke-width="4.5" stroke-linecap="butt" fill="none"/>
<circle cx="187.8" cy="800.2" r="2.25" fill="#453781"/>
<path d="M189.1,802.0L190.3,803.7" stroke="#443a83" stroke-width="4.5" stroke-linecap="butt" fill="none"/>
<circle cx="189.1" cy="802.0" r="2.25" fill="#443a83"/>
<path d="M190.3,803.7L191.6,805.5" stroke="#423f85" stroke-width="4.5" stroke-linecap="butt" fill="none"/>
<circle cx="190.3" cy="803.7" r="2.25" fill="#423f85"/>
<path d="M191.6,805.5L192.8,807.2" stroke="#414287" stroke-width="4.5" stroke-linecap="butt" fill="none"/>
<circle cx="191.6" cy="805.5" r="2.25" fill="#414287"/>
<path d="M192.8,807.2L194.1,809.0" stroke="#3f4788" stroke-width="4.5" stroke-linecap="butt" fill="none"/>
<circle cx="192.8" cy="807.2" r="2.25" fill="#3f4788"/>
<path d="M194.1,809.0L195.2,811.0" stroke="#3e4c8a" stroke-width="4.5" stroke-linecap="butt" fill="none"/>
<circle cx="194.1" cy="809.0" r="2.25" fill="#3e4c8a"/>
<path d="M195.2,811.0L196.4,813.0" stroke="#3c4f8a" stroke-width="4.5" stroke-linecap="butt" fill="none"/>
<circle cx="195.2" cy="811.0" r="2.25" fill="#3c4f8a"/>
<path d="M196.4,813.0L197.6,815.0" stroke="#3b528b" stroke-width="4.5" stroke-linecap="butt" fill="none"/>
<circle cx="196.4" cy="813.0" r="2.25" fill="#3b528b"/>
<path d="M197.6,815.0L198.7,817.0" stroke="#39568c" stroke-width="4.5" stroke-linecap="butt" fill="none"/>
<circle cx="197.6" cy="815.0" r="2.25" fill="#39568c"/>
<path d="M198.7,817.0L199.8,819.0" stroke="#375a8c" stroke-width="4.5" stroke-linecap="butt" fill="none"/>
<circle cx="198.7" cy="817.0" r="2.25" fill="#375a8c"/>
<path d="M199.8,819.0L201.0,821.0" stroke="#355e8d" stroke-width="4.5" stroke-linecap="butt" fill="none"/>
<circle cx="199.8" cy="819.0" r="2.25" fill="#355e8d"/>
<path d="M201.0,821.0L201.9,822.9" stroke="#34618d" stroke-width="4.5" stroke-linecap="butt" fill="none"/>
<circle cx="201.0" cy="821.0" r="2.25" fill="#34618d"/>
<path d="M201.9,822.9L202.8,824.8" stroke="#32648e" stroke-width="4.5" stroke-linecap="butt" fill="none"/>
<circle cx="201.9" cy="822.9" r="2.25" fill="#32648e"/>
<path d="M202.8,824.8L203.7,826.7" stroke="#31678e" stroke-width="4.5" stroke-linecap="butt" fill="none"/>
<circle cx="202.8" cy="824.8" r="2.25" fill="#31678e"/>
<path d="M203.7,826.7L204.6,828.5" stroke="#306a8e" stroke-width="4.5" stroke-linecap="butt" fill="none"/>
<circle cx="203.7" cy="826.7" r="2.25" fill="#306a8e"/>
<path d="M204.6,828.5L205.5,830.4" stroke="#2f6c8e" stroke-width="4.5" stroke-linecap="butt" fill="none"/>
<circle cx="204.6" cy="828.5" r="2.25" fill="#2f6c8e"/>
<path d="M205.5,830.4L206.4,832.3" stroke="#2e6f8e" stroke-width="4.5" stroke-linecap="butt" fill="none"/>
<circle cx="205.5" cy="830.4" r="2.25" fill="#2e6f8e"/>
<path d="M206.4,832.3L207.3,834.2" stroke="#2c718e" stroke-width="4.5" stroke-linecap="butt" fill="none"/>
<circle cx="206.4" cy="832.3" r="2.25" fill="#2c718e"/>
<path d="M207.3,834.2L208.0,836.3" stroke="#2b748e" stroke-width="4.5" stroke-linecap="butt" fill="none"/>
<circle cx="207.3" cy="834.2" r="2.25" fill="#2b748e"/>
<path d="M208.0,836.3L208.7,838.3" stroke="#2a778e" stroke-width="4.5" stroke-linecap="butt" fill="none"/>
<circle cx="208.0" cy="836.3" r="2.25" fill="#2a778e"/>
<path d="M208.7,838.3L209.4,840.4" stroke="#29798e" stroke-width="4.5" stroke-linecap="butt" fill="none"/>
<circle cx="208.7" cy="838.3" r="2.25" fill="#29798e"/>
<path d="M209.4,840.4L210.2,842.5" stroke="#287c8e" stroke-width="4.5" stroke-linecap="butt" fill="none"/>
<circle cx="209.4" cy="840.4" r="2.25" fill="#287c8e"/>
<path d="M210.2,842.5L210.9,844.6" stroke="#277e8e" stroke-width="4.5" stroke-linecap="butt" fill="none"/>
<circle cx="210.2" cy="842.5" r="2.25" fill="#277e8e"/>
<path d="M210.9,844.6L211.6,846.6" stroke="#26818e" stroke-width="4.5" stroke-linecap="butt" fill="none"/>
<circle cx="210.9" cy="844.6" r="2.25" fill="#26818e"/>
<path d="M211.6,846.6L212.3,848.7" stroke="#26828e" stroke-width="4.5" stroke-linecap="butt" fill="none"/>
<circle cx="211.6" cy="846.6" r="2.25" fill="#26828e"/>
<path d="M212.3,848.7L213.6,850.5" stroke="#25858e" stroke-width="4.5" stroke-linecap="butt" fill="none"/>
<circle cx="212.3" cy="848.7" r="2.25" fill="#25858e"/>
<path d="M213.6,850.5L214.8,852.2" stroke="#23888e" stroke-width="4.5" stroke-linecap="butt" fill="none"/>
<circle cx="213.6" cy="850.5" r="2.25" fill="#23888e"/>
<path d="M214.8,852.2L216.1,854.0" stroke="#238a8d" stroke-width="4.5" stroke-linecap="butt" fill="none"/>
<circle cx="214.8" cy="852.2" r="2.25" fill="#238a8d"/>
<path d="M216.1,854.0L217.3,855.7" stroke="#228d8d" stroke-width="4.5" stroke-linecap="butt" fill="none"/>
<circle cx="216.1" cy="854.0" r="2.25" fill="#228d8d"/>
<path d="M217.3,855.7L218.6,857.5" stroke="#218f8d" stroke-width="4.5" stroke-linecap="butt" fill="none"/>
<circle cx="217.3" cy="855.7" r="2.25" fill="#218f8d"/>
<path d="M218.6,857.5L219.7,859.6" stroke="#20928c" stroke-width="4.5" stroke-linecap="butt" fill="none"/>
<circle cx="218.6" cy="857.5" r="2.25" fill="#20928c"/>
<path d="M219.7,859.6L220.8,861.7" stroke="#20938c" stroke-width="4.5" stroke-linecap="butt" fill="none"/>
<circle cx="219.7" cy="859.6" r="2.25" fill="#20938c"/>
<path d="M220.8,861.7L221.8,863.8" stroke="#1f968b" stroke-width="4.5" stroke-linecap="butt" fill="none"/>
<circle cx="220.8" cy="861.7" r="2.25" fill="#1f968b"/>
<path d="M221.8,863.8L222.9,865.9" stroke="#1f988b" stroke-width="4.5" stroke-linecap="butt" fill="none"/>
<circle cx="221.8" cy="863.8" r="2.25" fill="#1f988b"/>
<path d="M222.9,865.9L224.0,868.0" stroke="#1e9b8a" stroke-width="4.5" stroke-linecap="butt" fill="none"/>
<circle cx="222.9" cy="865.9" r="2.25" fill="#1e9b8a"/>
<path d="M224.0,868.0L226.2,867.5" stroke="#1fa088" stroke-width="4.5" stroke-linecap="butt" fill="none"/>
<circle cx="224.0" cy="868.0" r="2.25" fill="#1fa088"/>
<path d="M226.2,867.5L228.5,867.0" stroke="#21a585" stroke-width="4.5" stroke-linecap="butt" fill="none"/>
<circle cx="226.2" cy="867.5" r="2.25" fill="#21a585"/>
<path d="M228.5,867.0L230.8,866.5" stroke="#25ab82" stroke-width="4.5" stroke-linecap="butt" fill="none"/>
<circle cx="228.5" cy="867.0" r="2.25" fill="#25ab82"/>
<path d="M230.8,866.5L233.0,866.0" stroke="#2cb17e" stroke-width="4.5" stroke-linecap="butt" fill="none"/>
<circle cx="230.8" cy="866.5" r="2.25" fill="#2cb17e"/>
<path d="M233.0,866.0L232.7,863.9" stroke="#31b57b" stroke-width="4.5" stroke-linecap="butt" fill="none"/>
<circle cx="233.0" cy="866.0" r="2.25" fill="#31b57b"/>
<path d="M232.7,863.9L232.4,861.8" stroke="#34b679" stroke-width="4.5" stroke-linecap="butt" fill="none"/>
<circle cx="232.7" cy="863.9" r="2.25" fill="#34b679"/>
<path d="M232.4,861.8L232.2,859.6" stroke="#37b878" stroke-width="4.5" stroke-linecap="butt" fill="none"/>
<circle cx="232.4" cy="861.8" r="2.25" fill="#37b878"/>
<path d="M232.2,859.6L231.9,857.5" stroke="#3aba76" stroke-width="4.5" stroke-linecap="butt" fill="none"/>
<circle cx="232.2" cy="859.6" r="2.25" fill="#3aba76"/>
<path d="M231.9,857.5L230.0,856.2" stroke="#3dbc74" stroke-width="4.5" stroke-linecap="butt" fill="none"/>
<circle cx="231.9" cy="857.5" r="2.25" fill="#3dbc74"/>
<path d="M230.0,856.2L228.1,855.0" stroke="#40bd72" stroke-width="4.5" stroke-linecap="butt" fill="none"/>
<circle cx="230.0" cy="856.2" r="2.25" fill="#40bd72"/>
<path d="M228.1,855.0L226.2,853.8" stroke="#46c06f" stroke-width="4.5" stroke-linecap="butt" fill="none"/>
<circle cx="228.1" cy="855.0" r="2.25" fill="#46c06f"/>
<path d="M226.2,853.8L224.3,852.5" stroke="#4cc26c" stroke-width="4.5" stroke-linecap="butt" fill="none"/>
<circle cx="226.2" cy="853.8" r="2.25" fill="#4cc26c"/>
<path d="M224.3,852.5L224.2,850.4" stroke="#50c46a" stroke-width="4.5" stroke-linecap="butt" fill="none"/>
<circle cx="224.3" cy="852.5" r="2.25" fill="#50c46a"/>
<path d="M224.2,850.4L224.2,848.2" stroke="#52c569" stroke-width="4.5" stroke-linecap="butt" fill="none"/>
<circle cx="224.2" cy="850.4" r="2.25" fill="#52c569"/>
<path d="M224.2,848.2L224.1,846.1" stroke="#56c667" stroke-width="4.5" stroke-linecap="butt" fill="none"/>
<circle cx="224.2" cy="848.2" r="2.25" fill="#56c667"/>
<path d="M224.1,846.1L224.0,844.0" stroke="#58c765" stroke-width="4.5" stroke-linecap="butt" fill="none"/>
<circle cx="224.1" cy="846.1" r="2.25" fill="#58c765"/>
<path d="M224.0,844.0L223.9,841.9" stroke="#5cc863" stroke-width="4.5" stroke-linecap="butt" fill="none"/>
<circle cx="224.0" cy="844.0" r="2.25" fill="#5cc863"/>
<path d="M223.9,841.9L223.8,839.8" stroke="#60ca60" stroke-width="4.5" stroke-linecap="butt" fill="none"/>
<circle cx="223.9" cy="841.9" r="2.25" fill="#60ca60"/>
<path d="M223.8,839.8L223.8,837.6" stroke="#63cb5f" stroke-width="4.5" stroke-linecap="butt" fill="none"/>
<circle cx="223.8" cy="839.8" r="2.25" fill="#63cb5f"/>
<path d="M223.8,837.6L223.7,835.5" stroke="#67cc5c" stroke-width="4.5" stroke-linecap="butt" fill="none"/>
<circle cx="223.8" cy="837.6" r="2.25" fill="#67cc5c"/>
<path d="M223.7,835.5L223.3,833.4" stroke="#6ccd5a" stroke-width="4.5" stroke-linecap="butt" fill="none"/>
<circle cx="223.7" cy="835.5" r="2.25" fill="#6ccd5a"/>
<path d="M223.3,833.4L222.9,831.3" stroke="#70cf57" stroke-width="4.5" stroke-linecap="butt" fill="none"/>
<circle cx="223.3" cy="833.4" r="2.25" fill="#70cf57"/>
<path d="M222.9,831.3L222.4,829.2" stroke="#75d054" stroke-width="4.5" stroke-linecap="butt" fill="none"/>
<circle cx="222.9" cy="831.3" r="2.25" fill="#75d054"/>
<path d="M222.4,829.2L222.0,827.1" stroke="#7ad151" stroke-width="4.5" stroke-linecap="butt" fill="none"/>
<circle cx="222.4" cy="829.2" r="2.25" fill="#7ad151"/>
<path d="M222.0,827.1L221.6,825.0" stroke="#7fd34e" stroke-width="4.5" stroke-linecap="butt" fill="none"/>
<circle cx="222.0" cy="827.1" r="2.25" fill="#7fd34e"/>
<path d="M221.6,825.0L221.2,822.9" stroke="#84d44b" stroke-width="4.5" stroke-linecap="butt" fill="none"/>
<circle cx="221.6" cy="825.0" r="2.25" fill="#84d44b"/>
<path d="M221.2,822.9L220.1,820.7" stroke="#8bd646" stroke-width="4.5" stroke-linecap="butt" fill="none"/>
<circle cx="221.2" cy="822.9" r="2.25" fill="#8bd646"/>
<path d="M220.1,820.7L219.0,818.5" stroke="#90d743" stroke-width="4.5" stroke-linecap="butt" fill="none"/>
<circle cx="220.1" cy="820.7" r="2.25" fill="#90d743"/>
<path d="M219.0,818.5L217.9,816.3" stroke="#98d83e" stroke-width="4.5" stroke-linecap="butt" fill="none"/>
<circle cx="219.0" cy="818.5" r="2.25" fill="#98d83e"/>
<path d="M217.9,816.3L216.8,814.1" stroke="#9dd93b" stroke-width="4.5" stroke-linecap="butt" fill="none"/>
<circle cx="217.9" cy="816.3" r="2.25" fill="#9dd93b"/>
<path d="M216.8,814.1L215.1,812.5" stroke="#a5db36" stroke-width="4.5" stroke-linecap="butt" fill="none"/>
<circle cx="216.8" cy="814.1" r="2.25" fill="#a5db36"/>
<path d="M215.1,812.5L213.3,811.0" stroke="#addc30" stroke-width="4.5" stroke-linecap="butt" fill="none"/>
<circle cx="215.1" cy="812.5" r="2.25" fill="#addc30"/>
<path d="M213.3,811.0L211.6,809.4" stroke="#b2dd2d" stroke-width="4.5" stroke-linecap="butt" fill="none"/>
<circle cx="213.3" cy="811.0" r="2.25" fill="#b2dd2d"/>
<path d="M211.6,809.4L209.8,807.8" stroke="#bade28" stroke-width="4.5" stroke-linecap="butt" fill="none"/>
<circle cx="211.6" cy="809.4" r="2.25" fill="#bade28"/>
<path d="M209.8,807.8L209.0,805.6" stroke="#c0df25" stroke-width="4.5" stroke-linecap="butt" fill="none"/>
<circle cx="209.8" cy="807.8" r="2.25" fill="#c0df25"/>
<path d="M209.0,805.6L208.2,803.4" stroke="#c8e020" stroke-width="4.5" stroke-linecap="butt" fill="none"/>
<circle cx="209.0" cy="805.6" r="2.25" fill="#c8e020"/>
<path d="M208.2,803.4L207.5,801.2" stroke="#cde11d" stroke-width="4.5" stroke-linecap="butt" fill="none"/>
<circle cx="208.2" cy="803.4" r="2.25" fill="#cde11d"/>
<path d="M207.5,801.2L206.7,799.0" stroke="#d5e21a" stroke-width="4.5" stroke-linecap="butt" fill="none"/>
<circle cx="207.5" cy="801.2" r="2.25" fill="#d5e21a"/>
<path d="M206.7,799.0L204.8,796.4" stroke="#e2e418" stroke-width="4.5" stroke-linecap="butt" fill="none"/>
<circle cx="206.7" cy="799.0" r="2.25" fill="#e2e418"/>
<path d="M204.8,796.4L201.0,796.7" stroke="#f6e620" stroke-width="4.5" stroke-linecap="butt" fill="none"/>
<circle cx="204.8" cy="796.4" r="2.25" fill="#f6e620"/>
</g>
<rect x="91.5" y="704.5" width="154" height="154" fill="none" stroke="#000" stroke-width="1.11"/>
<text x="123.8" y="682.0" font-size="12.9" font-weight="bold" stroke="#000" stroke-width="0.25" textLength="84.7" lengthAdjust="spacingAndGlyphs" xml:space="preserve">Wind Profile</text>
<text x="112.2" y="696.7" font-size="12.9" font-weight="bold" stroke="#000" stroke-width="0.25" textLength="117.0" lengthAdjust="spacingAndGlyphs" xml:space="preserve">10m/s increment</text>
</svg>
</body></html>
